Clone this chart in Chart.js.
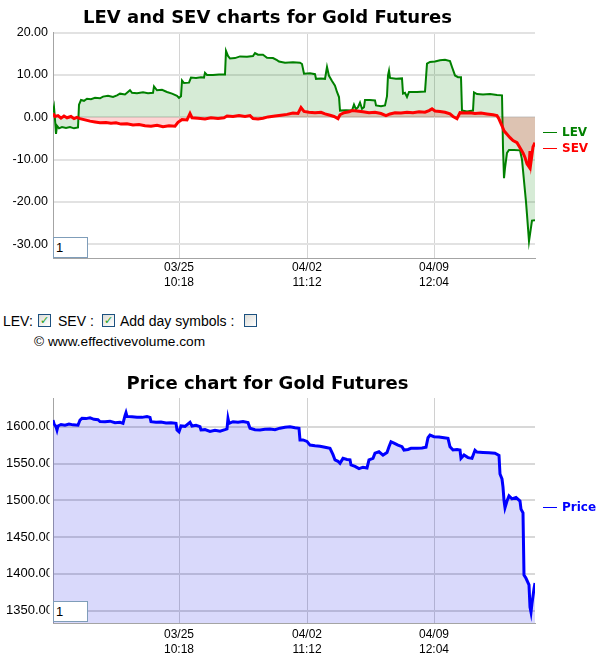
<!DOCTYPE html>
<html>
<head>
<meta charset="utf-8">
<script src="https://cdn.jsdelivr.net/npm/chart.js@4.4.1/dist/chart.umd.min.js"></script>
<style>
  body { margin: 0; width: 607px; height: 665px; overflow: hidden; background: #fff; position: relative;
         font-family: "Liberation Sans", Arial, sans-serif; color: #000; }
  canvas { position: absolute; left: 0; }
  #levChart { top: 0; }
  #priceChart { top: 352px; }
  .leg { position: absolute; left: 543px; font: bold 12px "DejaVu Sans", sans-serif; line-height: 14px; white-space: nowrap; }
  .leg i { display: inline-block; width: 14px; height: 0; border-top: 1.5px solid currentColor; vertical-align: middle; margin-right: 5px; }
  .numbox { position: absolute; left: 53px; width: 31px; height: 19px; border: 1px solid #7f9db9; background: #fff;
            font: 13px "Liberation Sans", Arial, sans-serif; line-height: 20px; padding-left: 2px; }
  .txt { position: absolute; font-size: 14px; line-height: 16px; white-space: nowrap; }
  .cb { position: absolute; top: 314px; width: 11px; height: 11px; border: 1px solid #1c5180;
        background: linear-gradient(135deg, #dcdcd7, #fff); font: bold 11px "DejaVu Sans", sans-serif;
        color: #21a121; line-height: 11px; text-align: center; }
</style>
</head>
<body>
<canvas id="levChart" width="607" height="300"></canvas>
<canvas id="priceChart" width="607" height="313"></canvas>

<div class="leg" style="top:125px;color:#008000"><i></i>LEV</div>
<div class="leg" style="top:141px;color:#ff0000"><i></i>SEV</div>
<div class="leg" style="top:500px;color:#0000ff"><i></i>Price</div>

<div class="numbox" style="top:237px">1</div>
<div class="numbox" style="top:601px">1</div>

<div class="txt" style="left:3px;top:313px">LEV:</div>
<div class="cb" style="left:38px">✓</div>
<div class="txt" style="left:58px;top:313px">SEV :</div>
<div class="cb" style="left:102px">✓</div>
<div class="txt" style="left:120px;top:313px">Add day symbols :</div>
<div class="cb" style="left:244px"></div>
<div class="txt" style="left:34px;top:334px;font-size:13.7px">© www.effectivevolume.com</div>

<script>
// time axis (bar index), labelled ticks
const xTickPos = [126, 254, 381];
const xTickLabels = [['03/25', '10:18'], ['04/02', '11:12'], ['04/09', '12:04']];
const levTicks = [-30, -20, -10, 0, 10, 20];
const priceTicks = [1350, 1400, 1450, 1500, 1550, 1600];

// LEV
const levX = [0,1,2,3,4,6,9,13,17,21,25,26,28,31,34,38,42,47,50,55,60,64,67,72,77,79,84,90,95,100,101,104,109,114,119,124,126,128,129,131,136,138,143,148,151,152,154,160,166,172,173,175,177,182,187,194,200,202,205,210,214,220,224,226,232,240,247,249,251,257,262,263,268,272,274,276,279,282,284,286,287,293,299,301,303,305,307,309,311,312,317,322,323,328,332,334,335,336,337,343,349,350,352,354,356,364,372,374,377,382,387,392,397,399,402,405,408,409,414,420,421,424,430,437,444,449,450,451,452,454,456,461,467,469,471,473,474,476,478,479,482];
const levY = [1.2,2.4,-0.5,-3.9,-2.0,-2.6,-2.3,-2.5,-2.3,-2.6,-2.4,3.0,4.1,3.9,4.4,4.3,4.6,4.5,4.9,5.1,4.8,5.2,5.6,5.4,6.4,5.8,5.7,5.9,5.7,5.8,7.3,6.4,6.5,6.0,5.6,5.1,4.6,5.0,8.7,8.1,8.2,9.4,9.3,9.5,9.4,10.5,10.0,10.0,10.1,10.1,15.7,14.5,13.9,14.0,14.4,14.3,14.5,15.2,14.8,14.8,14.1,14.0,13.5,13.2,12.9,13.0,12.9,12.6,10.3,10.4,10.2,9.1,9.2,9.1,11.9,9.8,8.6,7.5,6.0,4.8,1.6,1.7,1.6,3.0,1.9,2.4,3.5,2.0,2.4,4.1,4.1,4.0,2.8,2.6,2.8,5.0,9.9,11.0,9.3,9.1,9.2,5.6,5.8,4.8,6.0,6.0,6.1,12.7,13.1,13.2,13.5,13.6,13.3,11.9,9.9,9.5,9.5,1.6,1.4,1.6,5.9,5.5,5.4,5.5,5.3,5.2,-7.2,-14.4,-12.0,-8.4,-7.7,-7.7,-7.8,-10.0,-15.0,-20.0,-23.0,-29.3,-26.0,-24.4,-24.3];

// SEV
const sevX = [0,2,5,8,11,14,18,21,24,27,32,37,42,47,53,58,63,68,74,80,86,92,98,104,110,116,122,125,129,134,137,139,145,152,158,165,171,174,180,186,192,197,200,205,210,215,222,228,234,240,245,248,251,256,262,268,272,277,281,285,287,291,296,299,304,310,316,322,328,333,337,342,348,354,360,366,372,376,379,382,387,392,397,400,404,407,412,417,422,428,434,440,444,446,449,451,454,457,460,464,467,470,472,474,476,477,478,480,482];
const sevY = [0.9,0.2,0.4,-0.2,0.3,-0.1,0.2,-0.3,0.0,-0.3,-0.6,-0.9,-1.1,-1.3,-1.2,-1.4,-1.3,-1.6,-1.5,-1.8,-1.7,-2.0,-2.1,-1.9,-2.2,-2.0,-2.1,-1.2,-0.5,-0.6,0.9,-0.1,-0.2,-0.4,-0.1,-0.3,-0.1,0.3,0.2,0.4,0.2,0.4,-0.3,-0.4,-0.2,0.1,0.3,0.5,0.7,1.0,0.9,2.3,1.4,1.2,1.1,1.2,0.8,0.5,0.2,-0.3,0.6,1.1,1.3,1.6,1.5,1.3,1.1,1.2,0.9,0.4,0.8,1.1,1.0,1.2,1.1,1.3,1.2,1.6,2.0,1.5,1.4,1.2,0.8,0.2,-0.3,1.1,1.0,1.1,0.9,1.0,0.8,0.6,0.4,-0.4,-2.0,-3.2,-4.0,-4.8,-5.5,-6.0,-7.2,-8.4,-9.5,-11.0,-11.7,-8.0,-10.5,-7.0,-6.0];

// Price
const priceX = [0,1,3,4,5,8,12,16,20,25,27,29,33,37,41,45,47,52,57,62,67,70,72,73,74,79,84,89,94,97,98,103,108,113,118,123,124,126,128,132,137,139,143,147,148,152,157,162,167,172,174,175,176,180,185,190,195,197,202,207,212,217,222,227,232,237,242,246,247,250,254,257,262,267,272,277,280,282,285,287,290,294,297,298,302,306,310,314,316,320,322,326,330,334,336,338,341,345,349,351,355,358,364,369,373,375,377,381,386,391,395,397,400,404,407,408,411,415,419,422,424,430,436,442,446,447,449,450,451,452,454,456,459,463,467,468,470,471,473,476,477,478,479,481,482];
const priceY = [1609,1604,1600,1595.5,1601,1603,1602,1603.5,1602.5,1602,1609,1611.4,1611,1612,1610,1609.5,1607,1606.8,1607.5,1605.5,1606,1604.6,1615,1619,1614,1613.6,1613,1612.7,1613.8,1612.7,1606.8,1606,1606.5,1605,1605.5,1604.6,1595.5,1593,1601,1600.5,1606,1601,1602,1600,1595.5,1596,1593.5,1595,1594,1596,1597,1611,1604.6,1606.8,1606,1607,1605.5,1597.8,1596,1595.5,1596.5,1597,1596,1598,1599.2,1600,1598.5,1597.8,1582,1582,1580,1575,1574,1573.5,1572,1570.6,1562,1554.8,1553,1550.3,1557,1555.5,1555,1548,1546,1543,1545,1544,1555,1557,1564,1566,1561.5,1565,1572.8,1579.6,1577.8,1575,1572.8,1568.3,1569,1570.6,1570.6,1571,1572,1585,1588.6,1586.4,1586,1585,1584.2,1572.8,1568.3,1569,1568.3,1557,1561.5,1558,1557,1568,1565.6,1565,1564.5,1564,1561,1535.7,1529,1518,1500,1490,1499,1506,1502,1504,1499,1488,1483,1398.5,1394,1385,1355,1348,1360,1380,1387.6];

const pts = (xs, ys) => xs.map((x, i) => ({ x: x, y: ys[i] }));

Chart.defaults.font.family = '"Liberation Sans", Arial, sans-serif';
Chart.defaults.color = '#000';

function xScale(pad, gridColor) {
  return {
    type: 'linear', min: 0, max: 482,
    afterBuildTicks: (axis) => { axis.ticks = xTickPos.map(v => ({ value: v })); },
    afterFit: (axis) => { axis.height = 42; },
    ticks: { autoSkip: false, maxRotation: 0, padding: pad, font: { size: 12 },
             callback: (v, i) => xTickLabels[i] },
    grid: { color: gridColor, lineWidth: 1, drawTicks: false },
    border: { color: '#a4a4a4', width: 1 }
  };
}

function yScale(min, max, tickVals, pad, size, gridColor, fmt) {
  return {
    min: min, max: max,
    afterBuildTicks: (axis) => { axis.ticks = tickVals.map(v => ({ value: v })); },
    afterFit: (axis) => { axis.width = 53; },
    ticks: { padding: pad, font: { size: size }, callback: fmt },
    grid: { color: gridColor, lineWidth: 2, drawTicks: false },
    border: { color: '#a4a4a4', width: 1 }
  };
}

// labels of the price axis are cut before the plot edge
const clipLabels = {
  id: 'clipLabels',
  beforeDraw(chart, args, opts) {
    const s = chart.scales.y;
    if (!opts.right || s._clipPatched) return;
    const orig = s.drawLabels.bind(s);
    s.drawLabels = function (area) {
      const ctx = chart.ctx;
      ctx.save();
      ctx.beginPath();
      ctx.rect(0, 0, opts.right, chart.height);
      ctx.clip();
      orig(area);
      ctx.restore();
    };
    s._clipPatched = true;
  }
};

new Chart(document.getElementById('levChart'), {
  type: 'line',
  data: {
    datasets: [
      { label: 'SEV', data: pts(sevX, sevY), borderColor: '#ff0000', borderWidth: 3,
        backgroundColor: 'rgba(255,0,0,0.17)', fill: 'origin', pointRadius: 0, tension: 0 },
      { label: 'LEV', data: pts(levX, levY), borderColor: '#008000', borderWidth: 2,
        backgroundColor: 'rgba(0,128,0,0.16)', fill: 'origin', pointRadius: 0, tension: 0 }
    ]
  },
  options: {
    responsive: false, animation: false, devicePixelRatio: 1,
    layout: { padding: { left: 0, right: 72, top: 0, bottom: 0 } },
    plugins: {
      legend: { display: false },
      tooltip: { enabled: false },
      title: { display: true, text: 'LEV and SEV charts for Gold Futures', color: '#000',
               font: { family: '"DejaVu Sans", sans-serif', size: 18, weight: 'bold' },
               padding: { top: 7.5, bottom: 2.9 } }
    },
    scales: {
      x: xScale(2.8, '#d4d4d4'),
      y: yScale(-33.25, 20.17, levTicks, 5, 12.5, '#e2e2e2', v => v.toFixed(2))
    }
  }
});

new Chart(document.getElementById('priceChart'), {
  type: 'line',
  data: {
    datasets: [
      { label: 'Price', data: pts(priceX, priceY), borderColor: '#0000ff', borderWidth: 3,
        backgroundColor: 'rgba(0,0,230,0.15)', fill: 'start', pointRadius: 0, tension: 0 }
    ]
  },
  plugins: [clipLabels],
  options: {
    responsive: false, animation: false, devicePixelRatio: 1,
    layout: { padding: { left: 0, right: 72, top: 0, bottom: 0 } },
    plugins: {
      legend: { display: false },
      tooltip: { enabled: false },
      clipLabels: { right: 49.5 },
      title: { display: true, text: 'Price chart for Gold Futures', color: '#000',
               font: { family: '"DejaVu Sans", sans-serif', size: 18, weight: 'bold' },
               padding: { top: 21.2, bottom: 3.2 } }
    },
    scales: {
      x: xScale(4.6, '#d0d0d0'),
      y: yScale(1333.3, 1639, priceTicks, 0, 13, '#d8d8d8', v => v.toFixed(2))
    }
  }
});
</script>
</body>
</html>
